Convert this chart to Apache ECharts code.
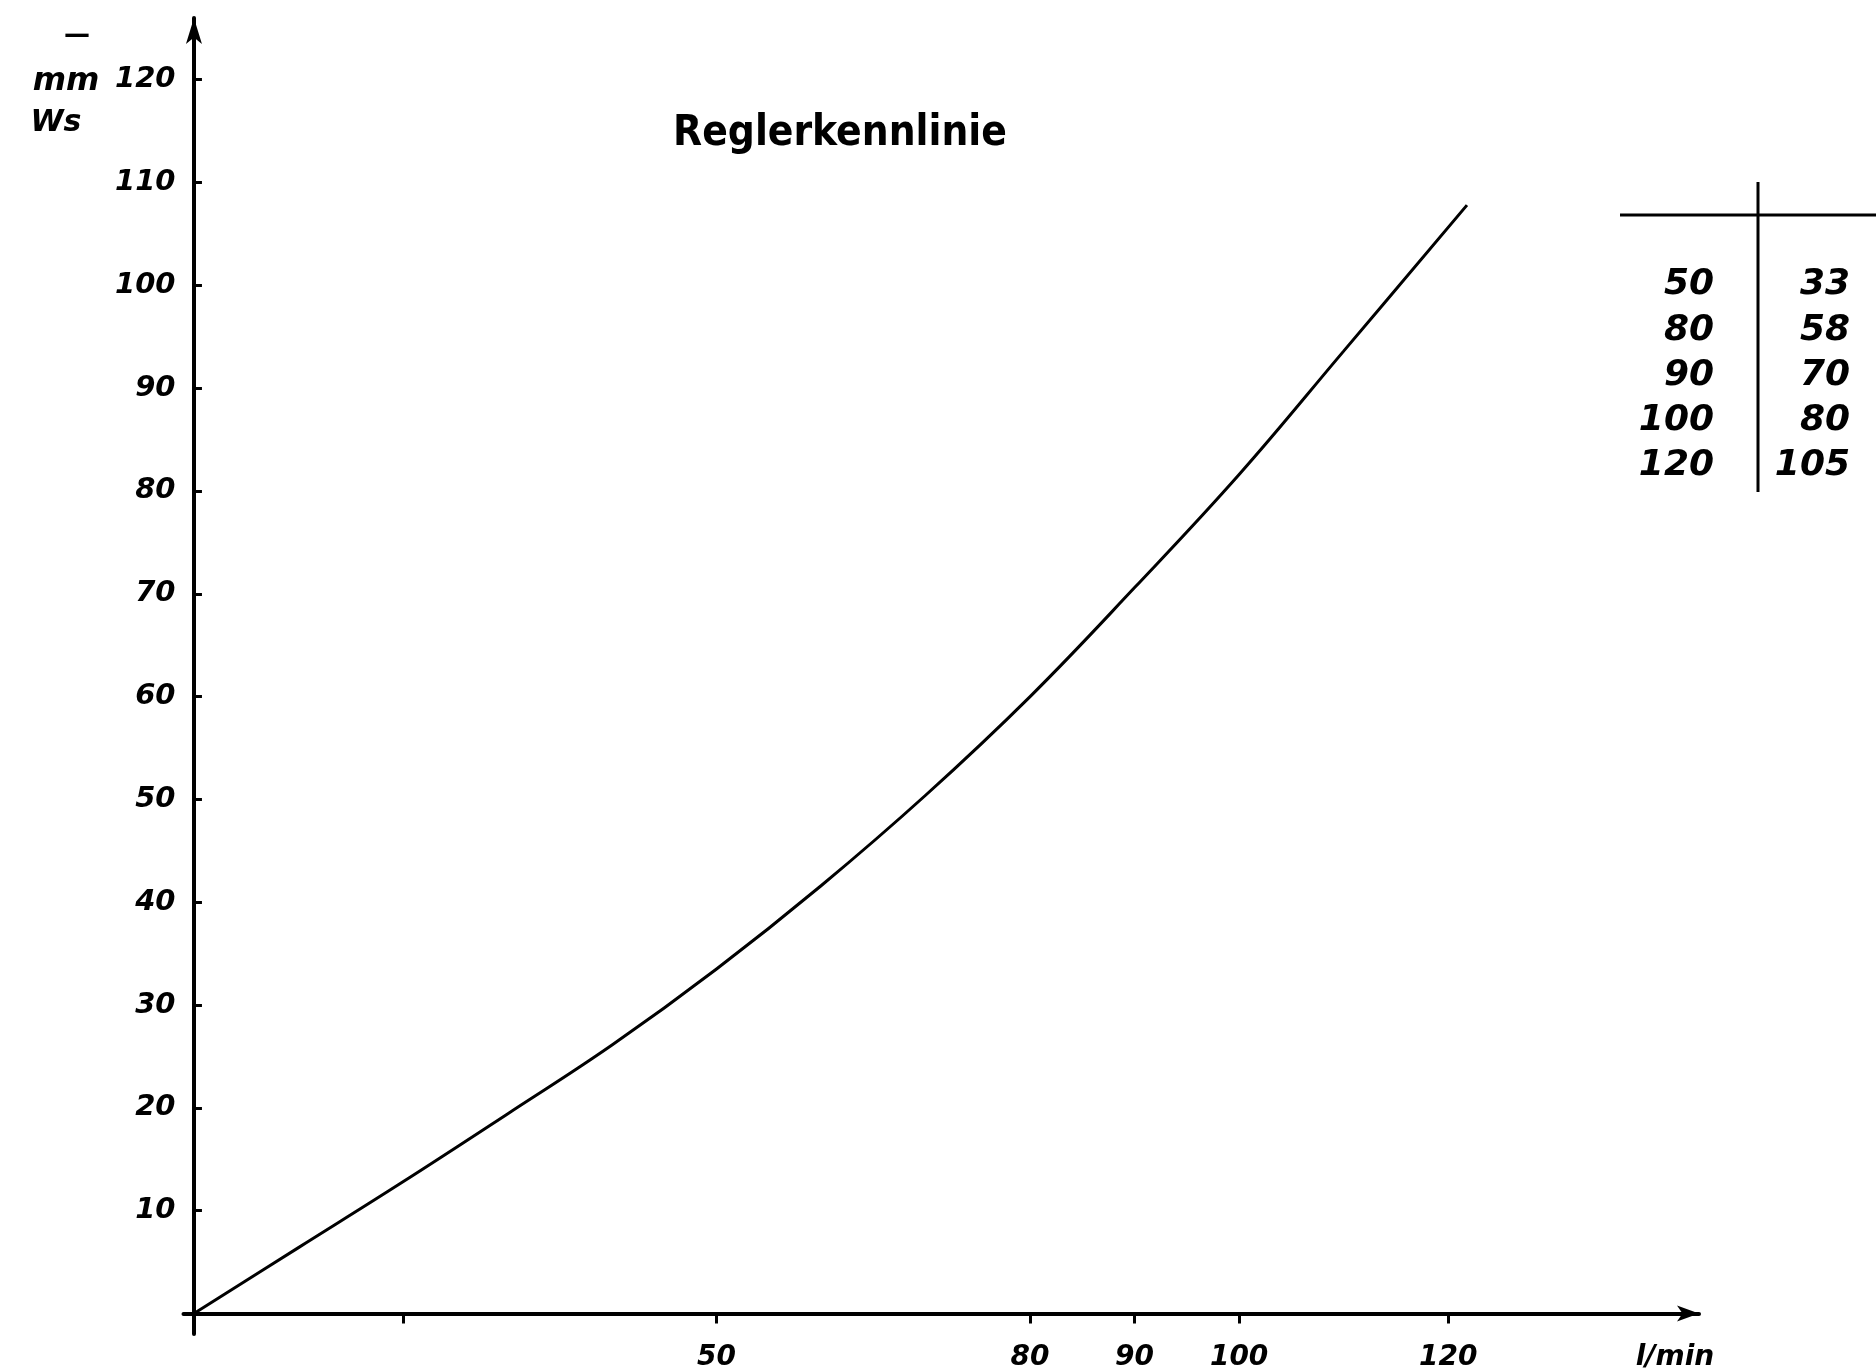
<!DOCTYPE html>
<html>
<head>
<meta charset="utf-8">
<script src="https://cdn.jsdelivr.net/npm/echarts@6/dist/echarts.min.js"></script>
<style>
html,body{margin:0;padding:0;background:#fff;}
#chart{width:1876px;height:1372px;}
</style>
</head>
<body>
<div id="chart"></div>
<script>
// Curve: flow (l/min) vs. pressure (mm Ws)
const flowValues     = [0, 10, 20, 30, 40, 50, 60, 70, 80, 90, 100, 110, 121.8];
const pressureValues = [0, 6.4, 12.8, 19.4, 26.1, 33.5, 41.6, 50.4, 60.0, 70.6, 81.6, 93.6, 107.8];

// Axis ticks / labels
const xTickValues  = [20, 50, 80, 90, 100, 120];
const xLabelValues = [50, 80, 90, 100, 120];
const yTickValues  = [10, 20, 30, 40, 50, 60, 70, 80, 90, 100, 110, 120];

// Side table
const tableFlow     = ['50', '80', '90', '100', '120'];
const tablePressure = ['33', '58', '70', '80', '105'];

const titleText = 'Reglerkennlinie';
const xUnit = 'l/min';
const yUnitLines = ['—', 'mm', 'Ws'];

const chart = echarts.init(document.getElementById('chart'), null, {renderer: 'canvas'});

const labelFont = {fontFamily: 'DejaVu Sans', fontWeight: 'bold', fontStyle: 'italic', color: '#000'};

const curve = flowValues.map((x, i) => [x, pressureValues[i]]);

const tableRowsY = [285, 331, 376, 421, 466];
const tableGraphics = [];
tableFlow.forEach((t, i) => {
  tableGraphics.push({type: 'text', x: 1714, y: tableRowsY[i],
    style: {text: t, fontSize: 36, align: 'right', verticalAlign: 'middle', fill: '#000',
      fontFamily: 'DejaVu Sans', fontWeight: 'bold', fontStyle: 'italic'}});
});
tablePressure.forEach((t, i) => {
  tableGraphics.push({type: 'text', x: 1850, y: tableRowsY[i],
    style: {text: t, fontSize: 36, align: 'right', verticalAlign: 'middle', fill: '#000',
      fontFamily: 'DejaVu Sans', fontWeight: 'bold', fontStyle: 'italic'}});
});

const option = {
  backgroundColor: '#fff',
  animation: false,
  grid: {left: 183.5, right: 177, top: 18, bottom: 26, containLabel: false},
  xAxis: {
    type: 'value', min: -1, max: 144,
    splitLine: {show: false},
    axisLine: {onZero: true, symbol: ['none', 'arrow'], symbolSize: [12, 22], lineStyle: {color: '#000', width: 4}},
    axisTick: {show: true, customValues: xTickValues, length: 10, lineStyle: {color: '#000', width: 3}},
    axisLabel: Object.assign({show: true, customValues: xLabelValues, fontSize: 28, margin: 10}, labelFont)
  },
  yAxis: {
    type: 'value', min: -2, max: 126,
    splitLine: {show: false},
    axisLine: {onZero: true, symbol: ['none', 'arrow'], symbolSize: [12, 26], lineStyle: {color: '#000', width: 4}},
    axisTick: {show: true, inside: true, customValues: yTickValues, length: 8, lineStyle: {color: '#000', width: 3}},
    axisLabel: Object.assign({show: true, customValues: yTickValues, fontSize: 29, margin: 8}, labelFont)
  },
  series: [{
    type: 'line',
    data: curve,
    smooth: 0.4,
    showSymbol: false,
    lineStyle: {color: '#000', width: 3},
    z: 3
  }],
  graphic: [
    {type: 'text', x: 840, y: 134,
      style: {text: titleText, fontFamily: 'DejaVu Sans Condensed, DejaVu Sans', fontSize: 42, fontWeight: 'bold', align: 'center', verticalAlign: 'middle', fill: '#000'}},
    {type: 'text', x: 77, y: 36,
      style: {text: yUnitLines[0], fontFamily: 'DejaVu Sans', fontSize: 26, fontWeight: 'bold', align: 'center', verticalAlign: 'middle', fill: '#000'}},
    {type: 'text', x: 66, y: 82,
      style: {text: yUnitLines[1], fontFamily: 'DejaVu Sans', fontSize: 32, fontWeight: 'bold', fontStyle: 'italic', align: 'center', verticalAlign: 'middle', fill: '#000'}},
    {type: 'text', x: 56, y: 123,
      style: {text: yUnitLines[2], fontFamily: 'DejaVu Sans', fontSize: 30, fontWeight: 'bold', fontStyle: 'italic', align: 'center', verticalAlign: 'middle', fill: '#000'}},
    {type: 'text', x: 1675, y: 1358,
      style: {text: xUnit, fontFamily: 'DejaVu Sans', fontSize: 28, fontWeight: 'bold', fontStyle: 'italic', align: 'center', verticalAlign: 'middle', fill: '#000'}},
    {type: 'line', shape: {x1: 1620, y1: 215, x2: 1876, y2: 215}, style: {stroke: '#000', lineWidth: 3}},
    {type: 'line', shape: {x1: 1758, y1: 182, x2: 1758, y2: 492}, style: {stroke: '#000', lineWidth: 3}}
  ].concat(tableGraphics)
};

chart.setOption(option);
</script>
</body>
</html>
